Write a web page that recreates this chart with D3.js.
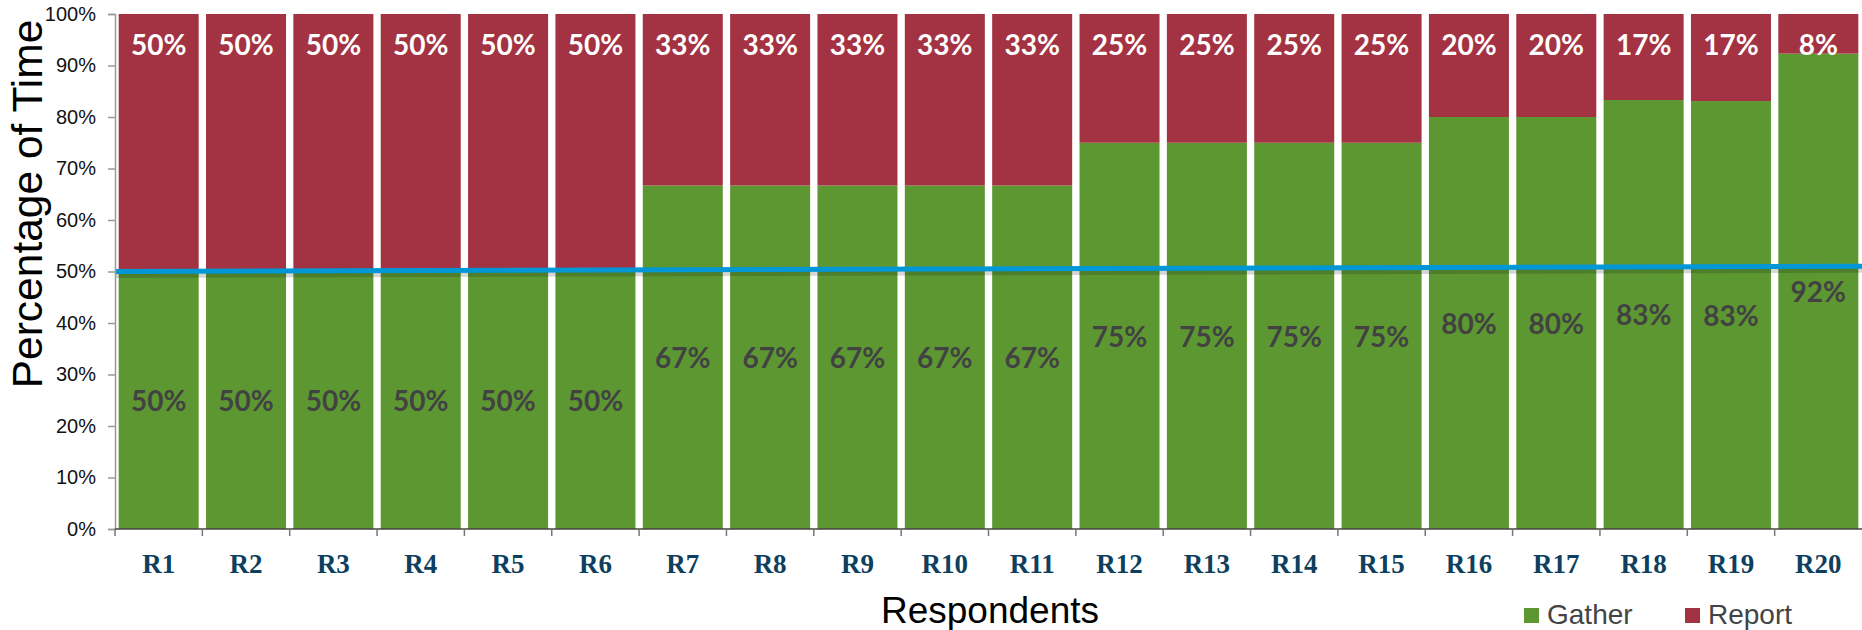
<!DOCTYPE html>
<html>
<head>
<meta charset="utf-8">
<script src="https://cdn.jsdelivr.net/npm/d3@7"></script>
<style>
  body { margin: 0; background: #fff; }
  svg { display: block; }
</style>
</head>
<body>
<figure id="chart" style="margin:0"></figure>
<script>
// data
const respondents = ["R1", "R2", "R3", "R4", "R5", "R6", "R7", "R8", "R9", "R10",
  "R11", "R12", "R13", "R14", "R15", "R16", "R17", "R18", "R19", "R20"];
const gather = [50, 50, 50, 50, 50, 50, 66.7, 66.7, 66.7, 66.7,
  66.7, 75, 75, 75, 75, 80, 80, 83.3, 83.1, 92.3];
const report = [50, 50, 50, 50, 50, 50, 33.3, 33.3, 33.3, 33.3,
  33.3, 25, 25, 25, 25, 20, 20, 16.7, 16.9, 7.7];
const yTicks = [0, 10, 20, 30, 40, 50, 60, 70, 80, 90, 100];
const trendLine = [50.0, 51.0];   // blue line at left and right edge
const seriesNames = ["Gather", "Report"];

const W = 1862, H = 630;
const margin = {top: 14, right: 0, bottom: 101, left: 115};
const width = W - margin.left - margin.right;
const height = H - margin.top - margin.bottom;

const colors = {Gather: "#5d9732", Report: "#a33342"};

const svg = d3.select("figure#chart")
  .append("svg")
  .attr("width", W)
  .attr("height", H);

const g = svg.append("g")
  .attr("transform", "translate(" + margin.left + "," + margin.top + ")");

const x = d3.scaleBand()
  .domain(respondents)
  .range([0, width])
  .paddingInner(0.084)
  .paddingOuter(0.042);

const y = d3.scaleLinear()
  .domain([0, 100])
  .range([height, 0]);

const rows = respondents.map((r, i) => ({key: r, Gather: gather[i], Report: report[i]}));
const stacked = d3.stack().keys(seriesNames)(rows);

// bars
g.selectAll("g.series")
  .data(stacked)
  .enter().append("g")
  .attr("class", "series")
  .attr("fill", d => colors[d.key])
  .selectAll("rect")
  .data(d => d)
  .enter().append("rect")
  .attr("x", d => x(d.data.key))
  .attr("y", d => y(d[1]))
  .attr("width", x.bandwidth())
  .attr("height", d => y(d[0]) - y(d[1]));

// blue line with a soft shadow underneath
const lx = d3.scaleLinear().domain([0, 1]).range([0, width]);
const line = d3.line().x((d, i) => lx(i)).y(d => y(d));
g.append("path")
  .datum(trendLine)
  .attr("d", line)
  .attr("transform", "translate(0,4)")
  .attr("fill", "none")
  .attr("stroke", "#000")
  .attr("stroke-opacity", 0.16)
  .attr("stroke-width", 5);
g.append("path")
  .datum(trendLine)
  .attr("d", line)
  .attr("fill", "none")
  .attr("stroke", "#0097d7")
  .attr("stroke-width", 5);

// value labels
const labelFont = "Lato, 'Open Sans', sans-serif";
g.selectAll("text.glabel")
  .data(rows)
  .enter().append("text")
  .attr("class", "glabel")
  .attr("x", d => x(d.key) + x.bandwidth() / 2)
  .attr("y", d => y(d.Gather / 2))
  .attr("dy", "0.38em")
  .attr("text-anchor", "middle")
  .style("font-family", labelFont)
  .style("font-weight", 700)
  .style("font-size", "28px")
  .style("fill", "#424242")
  .text(d => Math.round(d.Gather) + "%");

g.selectAll("text.rlabel")
  .data(rows)
  .enter().append("text")
  .attr("class", "rlabel")
  .attr("x", d => x(d.key) + x.bandwidth() / 2)
  .attr("y", y(100) + 41)
  .attr("text-anchor", "middle")
  .style("font-family", labelFont)
  .style("font-weight", 700)
  .style("font-size", "28px")
  .style("fill", "#fff")
  .text(d => Math.round(d.Report) + "%");

// y axis
const yAxis = g.append("g")
  .call(d3.axisLeft(y).tickValues(yTicks).tickSize(7).tickPadding(12).tickFormat(d => d + "%"));
yAxis.select(".domain").attr("stroke", "#999").attr("stroke-width", 1.5);
yAxis.selectAll(".tick line").attr("stroke", "#999").attr("stroke-width", 1.5);
yAxis.selectAll("text")
  .style("font-family", "Arial, 'Liberation Sans', sans-serif")
  .style("font-size", "20px")
  .style("fill", "#111");

// x axis: ticks sit between bands
const xAxis = g.append("g")
  .attr("transform", "translate(0," + height + ")");
xAxis.append("line")
  .attr("x1", 0).attr("x2", width)
  .attr("stroke", "#444").attr("stroke-width", 1.5);
const bounds = respondents.map(r => x(r) - x.step() * x.paddingInner() / 2);
xAxis.selectAll("line.tick")
  .data(bounds)
  .enter().append("line")
  .attr("class", "tick")
  .attr("x1", d => d).attr("x2", d => d)
  .attr("y1", 0).attr("y2", 7)
  .attr("stroke", "#777").attr("stroke-width", 1.5);
xAxis.selectAll("text")
  .data(respondents)
  .enter().append("text")
  .attr("x", d => x(d) + x.bandwidth() / 2)
  .attr("y", 44)
  .attr("text-anchor", "middle")
  .style("font-family", "'Liberation Serif', 'Times New Roman', serif")
  .style("font-weight", 700)
  .style("font-size", "27px")
  .style("fill", "#0e3f5e")
  .text(d => d);

// axis titles
svg.append("text")
  .attr("transform", "translate(42,204) rotate(-90)")
  .attr("text-anchor", "middle")
  .style("font-family", "Arial, 'Liberation Sans', sans-serif")
  .style("font-size", "42.5px")
  .style("fill", "#000")
  .text("Percentage of Time");

svg.append("text")
  .attr("x", 990)
  .attr("y", 623)
  .attr("text-anchor", "middle")
  .style("font-family", "Arial, 'Liberation Sans', sans-serif")
  .style("font-size", "37px")
  .style("fill", "#000")
  .text("Respondents");

// legend
const legendX = [1524, 1685];
const legend = svg.selectAll("g.legend")
  .data(seriesNames)
  .enter().append("g")
  .attr("class", "legend")
  .attr("transform", (d, i) => "translate(" + legendX[i] + ",608)");
legend.append("rect")
  .attr("width", 15).attr("height", 15)
  .attr("fill", d => colors[d]);
legend.append("text")
  .attr("x", 23)
  .attr("y", 16)
  .style("font-family", "Arial, 'Liberation Sans', sans-serif")
  .style("font-size", "28px")
  .style("fill", "#444")
  .text(d => d);
</script>
</body>
</html>
